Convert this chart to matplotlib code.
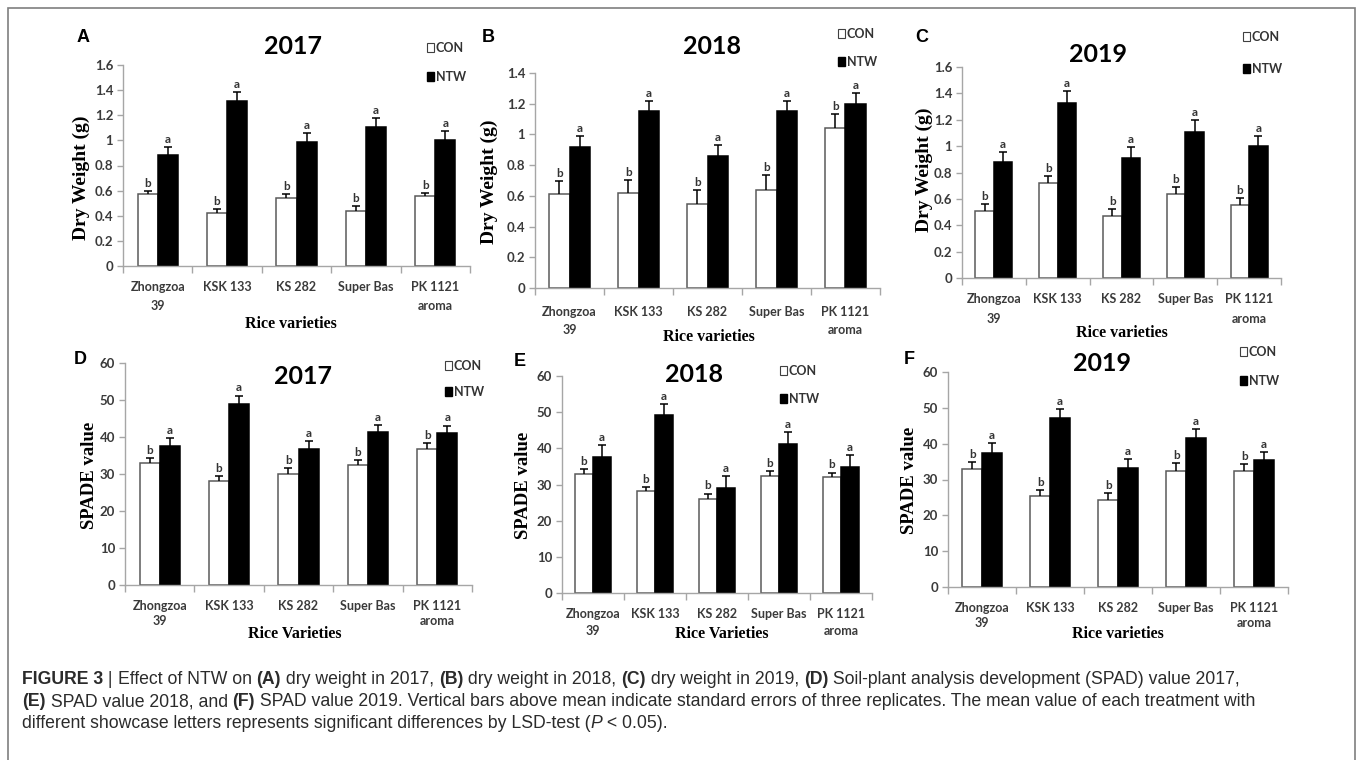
import numpy as np
import matplotlib.pyplot as plt
from matplotlib.patches import Patch, Rectangle
from matplotlib.ticker import FuncFormatter
from matplotlib.font_manager import FontProperties

# ---- data ----
varieties = ['Zhongzoa\n39', 'KSK 133', 'KS 282', 'Super Bas', 'PK 1121\naroma']
series = ['CON', 'NTW']

# dry weight (g)
dw17_con = [0.57, 0.42, 0.54, 0.44, 0.56]
dw17_con_se = [0.03, 0.03, 0.03, 0.035, 0.02]
dw17_ntw = [0.88, 1.31, 0.99, 1.11, 1.00]
dw17_ntw_se = [0.07, 0.075, 0.07, 0.07, 0.075]

dw18_con = [0.61, 0.62, 0.55, 0.64, 1.04]
dw18_con_se = [0.085, 0.085, 0.085, 0.095, 0.09]
dw18_ntw = [0.92, 1.15, 0.86, 1.15, 1.20]
dw18_ntw_se = [0.07, 0.07, 0.07, 0.07, 0.07]

dw19_con = [0.51, 0.72, 0.47, 0.64, 0.555]
dw19_con_se = [0.05, 0.055, 0.05, 0.05, 0.05]
dw19_ntw = [0.88, 1.33, 0.91, 1.11, 1.00]
dw19_ntw_se = [0.075, 0.09, 0.08, 0.09, 0.075]

# SPAD value
sp17_con = [33.0, 28.2, 30.1, 32.3, 36.8]
sp17_con_se = [1.4, 1.3, 1.5, 1.5, 1.5]
sp17_ntw = [37.7, 48.9, 36.7, 41.4, 41.1]
sp17_ntw_se = [1.9, 2.3, 2.2, 1.9, 2.0]

sp18_con = [33.0, 28.1, 26.1, 32.4, 32.0]
sp18_con_se = [1.2, 1.3, 1.4, 1.3, 1.3]
sp18_ntw = [37.5, 49.1, 29.1, 41.1, 34.9]
sp18_ntw_se = [3.3, 3.1, 3.3, 3.5, 3.3]

sp19_con = [32.9, 25.4, 24.4, 32.5, 32.3]
sp19_con_se = [2.0, 1.6, 1.7, 2.2, 2.0]
sp19_ntw = [37.5, 47.2, 33.3, 41.7, 35.4]
sp19_ntw_se = [2.6, 2.4, 2.3, 2.3, 2.2]

con_letters = ['b', 'b', 'b', 'b', 'b']
ntw_letters = ['a', 'a', 'a', 'a', 'a']

caption_lines = [
    [('FIGURE 3', 'bold'), (' | ', 'normal'), ('Effect of NTW on ', 'normal'), ('(A)', 'bold'),
     (' dry weight in 2017, ', 'normal'), ('(B)', 'bold'), (' dry weight in 2018, ', 'normal'),
     ('(C)', 'bold'), (' dry weight in 2019, ', 'normal'), ('(D)', 'bold'),
     (' Soil-plant analysis development (SPAD) value 2017,', 'normal')],
    [('(E)', 'bold'), (' SPAD value 2018, and ', 'normal'), ('(F)', 'bold'),
     (' SPAD value 2019. Vertical bars above mean indicate standard errors of three replicates. '
      'The mean value of each treatment with', 'normal')],
    [('different showcase letters represents significant differences by LSD-test (', 'normal'),
     ('P', 'italic'), (' < 0.05).', 'normal')],
]

W, H = 1360, 760
fig = plt.figure(figsize=(W / 100, H / 100), dpi=100)
grey = '#a6a6a6'
sans = ['Lato', 'DejaVu Sans']
serif = ['Liberation Serif', 'DejaVu Serif']


def put(x, y, s, **kw):
    # place text using pixel coords measured from the top-left corner
    return fig.text(x / W, 1 - y / H, s, **kw)


def draw_panel(p, con, con_se, ntw, ntw_se):
    l, t, r, b = p['box']
    ax = fig.add_axes([l / W, 1 - b / H, (r - l) / W, (b - t) / H])
    x = np.arange(len(varieties))
    w = 0.29
    for xs, ys, es, fc, ec, lets in [(x - w / 2, con, con_se, 'white', '#5a5a5a', con_letters),
                                     (x + w / 2, ntw, ntw_se, 'black', 'black', ntw_letters)]:
        ax.bar(xs, ys, w, color=fc, edgecolor=ec, linewidth=1.1, zorder=2)
        _, caps, _ = ax.errorbar(xs, ys, yerr=[np.zeros(len(ys)), es], fmt='none',
                                 ecolor='black', elinewidth=1.1, capsize=3, capthick=1.1, zorder=3)
        for c in caps:
            if np.allclose(c.get_ydata(), ys):
                c.set_visible(False)
        for i in range(len(ys)):
            ax.annotate(lets[i], (xs[i], ys[i] + es[i]), xytext=(0, 1.5), textcoords='offset points',
                        ha='center', va='bottom', family=sans, weight='bold', size=8.5, color='#333333')

    ax.set_xlim(-0.5, len(varieties) - 0.5)
    ax.set_ylim(0, p['ymax'])
    ax.set_yticks(np.arange(0, p['ymax'] + 1e-9, p['ystep']))
    ax.yaxis.set_major_formatter(FuncFormatter(lambda v, _: f'{v:g}'))
    ax.set_xticks(np.arange(-0.5, len(varieties), 1))
    ax.set_xticklabels([])
    ax.set_xticks(x, minor=True)
    ax.set_xticklabels(varieties, minor=True)
    ax.tick_params(axis='x', which='major', length=5, color=grey, width=1)
    ax.tick_params(axis='x', which='minor', length=0, pad=p['xpad'])
    ax.tick_params(axis='y', length=4, color=grey, width=1, pad=3)
    for lbl in ax.get_xticklabels(minor=True):
        lbl.set_fontfamily(sans)
        lbl.set_fontweight('bold')
        lbl.set_fontsize(9)
        lbl.set_color('#3a3a3a')
        lbl.set_linespacing(p['xls'])
    for lbl in ax.get_yticklabels():
        lbl.set_fontfamily(sans)
        lbl.set_fontweight('bold')
        lbl.set_fontsize(9.5)
        lbl.set_color('#3a3a3a')
    for s in ['top', 'right']:
        ax.spines[s].set_visible(False)
    for s in ['left', 'bottom']:
        ax.spines[s].set_color(grey)
        ax.spines[s].set_linewidth(1)

    handles = [Patch(facecolor='white', edgecolor='#404040', linewidth=0.8, label=series[0]),
               Patch(facecolor='black', edgecolor='black', label=series[1])]
    lx, ly = p['legend']
    leg = ax.legend(handles=handles, loc='upper left', bbox_to_anchor=(lx / W, 1 - (ly - 7) / H),
                    bbox_transform=fig.transFigure, frameon=False, handlelength=0.55,
                    handleheight=0.75, handletextpad=0.15, labelspacing=p['legsp'],
                    borderpad=0, borderaxespad=0,
                    prop=FontProperties(family=sans, weight='bold', size=9))
    for tx in leg.get_texts():
        tx.set_color('#333333')

    put(*p['title'], p['year'], family=sans, weight='bold', size=18, ha='center', va='center')
    put(*p['letter'], p['tag'], family=['Liberation Sans', 'DejaVu Sans'], weight='bold', size=13,
        ha='center', va='center')
    put(*p['ylab'], p['ylabel'], family=serif, weight='bold', size=p['ylsize'], rotation=90,
        ha='center', va='center')
    put(*p['xlab'], p['xlabel'], family=serif, weight='bold', size=11.5, ha='center', va='center')
    return ax


panels = [
    dict(tag='A', year='2017', box=(123, 65, 470, 266), ymax=1.6, ystep=0.2, xpad=11, xls=1.65,
         legend=(427, 49), legsp=1.35, title=(293, 47), letter=(83, 37), ylab=(81, 178),
         ylabel='Dry Weight (g)', ylsize=14, xlab=(291, 324), xlabel='Rice varieties'),
    dict(tag='B', year='2018', box=(535, 73, 880, 288), ymax=1.4, ystep=0.2, xpad=13, xls=1.55,
         legend=(838, 35), legsp=1.25, title=(712, 47), letter=(488, 37), ylab=(489, 182),
         ylabel='Dry Weight (g)', ylsize=14, xlab=(709, 337), xlabel='Rice varieties'),
    dict(tag='C', year='2019', box=(962, 67, 1281, 278), ymax=1.6, ystep=0.2, xpad=11, xls=1.75,
         legend=(1243, 38), legsp=1.6, title=(1098, 55), letter=(922, 37), ylab=(924, 170),
         ylabel='Dry Weight (g)', ylsize=14, xlab=(1122, 333), xlabel='Rice varieties'),
    dict(tag='D', year='2017', box=(125, 363, 472, 585), ymax=60, ystep=10, xpad=11, xls=1.3,
         legend=(445, 367), legsp=1.1, title=(303, 376), letter=(80, 360), ylab=(89, 475),
         ylabel='SPADE value', ylsize=13.5, xlab=(295, 634), xlabel='Rice Varieties'),
    dict(tag='E', year='2018', box=(562, 376, 872, 593), ymax=60, ystep=10, xpad=11, xls=1.5,
         legend=(780, 372), legsp=1.25, title=(694, 375), letter=(520, 362), ylab=(524, 485),
         ylabel='SPADE value', ylsize=13.5, xlab=(722, 634), xlabel='Rice Varieties'),
    dict(tag='F', year='2019', box=(948, 372, 1288, 587), ymax=60, ystep=10, xpad=11, xls=1.3,
         legend=(1240, 353), legsp=1.35, title=(1102, 364), letter=(909, 360), ylab=(910, 480),
         ylabel='SPADE value', ylsize=13.5, xlab=(1118, 634), xlabel='Rice varieties'),
]

panel_data = [
    (dw17_con, dw17_con_se, dw17_ntw, dw17_ntw_se),
    (dw18_con, dw18_con_se, dw18_ntw, dw18_ntw_se),
    (dw19_con, dw19_con_se, dw19_ntw, dw19_ntw_se),
    (sp17_con, sp17_con_se, sp17_ntw, sp17_ntw_se),
    (sp18_con, sp18_con_se, sp18_ntw, sp18_ntw_se),
    (sp19_con, sp19_con_se, sp19_ntw, sp19_ntw_se),
]

for p, d in zip(panels, panel_data):
    draw_panel(p, *d)

# frame round the figure (bottom edge runs off the page)
fig.patches.append(Rectangle((8 / W, -0.1), (1355 - 8) / W, 0.1 + (H - 8) / H, transform=fig.transFigure,
                             fill=False, edgecolor='#7f7f7f', linewidth=1.2))

# caption, drawn segment by segment to mix bold / italic
renderer = fig.canvas.get_renderer()
cap_size = 12.7
cap_y = [680, 702, 724]
for line, y in zip(caption_lines, cap_y):
    x = 22
    for seg, style in line:
        fp = FontProperties(family=['Liberation Sans', 'DejaVu Sans'], size=cap_size,
                            weight='bold' if style == 'bold' else 'normal',
                            style='italic' if style == 'italic' else 'normal')
        put(x, y, seg, fontproperties=fp, color='#2b2b2b', ha='left', va='center')
        wbar = renderer.get_text_width_height_descent('|', fp, ismath=False)[0]
        wseg = renderer.get_text_width_height_descent(seg + '|', fp, ismath=False)[0] - wbar
        x += wseg

fig.savefig('out.png', dpi=100)
